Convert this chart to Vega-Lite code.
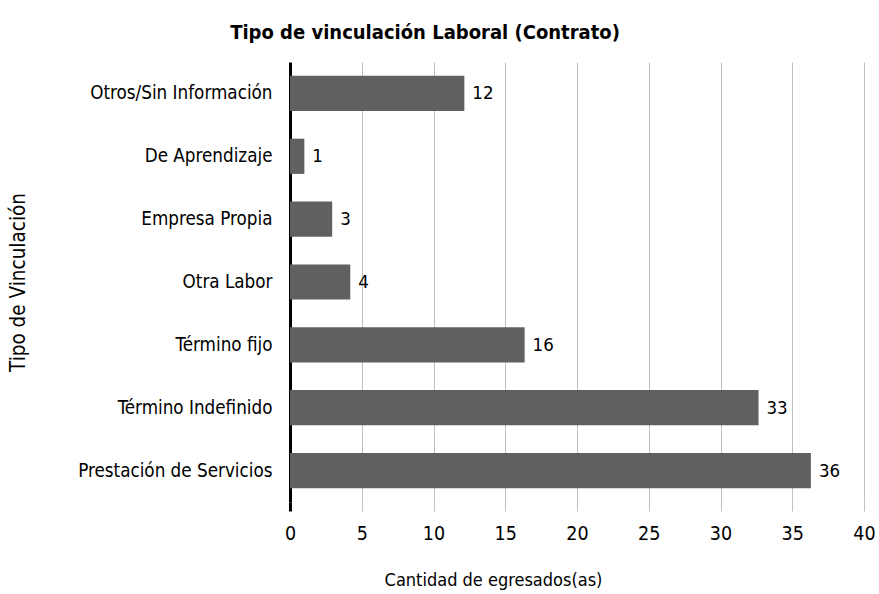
{
  "$schema": "https://vega.github.io/schema/vega-lite/v6.json",
  "width": 574,
  "height": 440,
  "autosize": {"type": "none"},
  "padding": {"left": 290, "top": 62, "right": 15, "bottom": 92},
  "background": "white",
  "config": {
    "font": "DejaVu Sans Condensed",
    "view": {"stroke": null}
  },
  "title": {
    "text": "Tipo de vinculación Laboral (Contrato)",
    "font": "DejaVu Sans Condensed",
    "fontSize": 20,
    "fontWeight": "bold",
    "color": "#000000",
    "anchor": "middle",
    "dx": -152,
    "offset": 19
  },
  "data": {
    "values": [
      {"tipo": "Otros/Sin Información", "cantidad": 12.15},
      {"tipo": "De Aprendizaje", "cantidad": 1.0},
      {"tipo": "Empresa Propia", "cantidad": 2.94},
      {"tipo": "Otra Labor", "cantidad": 4.2},
      {"tipo": "Término fijo", "cantidad": 16.35},
      {"tipo": "Término Indefinido", "cantidad": 32.65},
      {"tipo": "Prestación de Servicios", "cantidad": 36.3}
    ]
  },
  "encoding": {
    "y": {
      "field": "tipo",
      "type": "nominal",
      "sort": null,
      "scale": {"paddingInner": 0.44, "paddingOuter": 0.22},
      "axis": {
        "title": "Tipo de Vinculación",
        "titleFont": "DejaVu Sans Condensed",
        "titleFontSize": 20.5,
        "titleFontWeight": "normal",
        "titleColor": "#000000",
        "titleAngle": -90,
        "titleX": -272,
        "titleY": 220,
        "titleAlign": "center",
        "titleBaseline": "middle",
        "labelFont": "DejaVu Sans Condensed",
        "labelFontSize": 18.7,
        "labelColor": "#000000",
        "labelPadding": 18,
        "labelLimit": 0,
        "ticks": false,
        "domainColor": "#000000",
        "domainWidth": 3
      }
    },
    "x": {
      "field": "cantidad",
      "type": "quantitative",
      "scale": {"domain": [0, 40]},
      "axis": {
        "title": "Cantidad de egresados(as)",
        "titleFont": "DejaVu Sans Condensed",
        "titleFontSize": 18,
        "titleFontWeight": "normal",
        "titleColor": "#000000",
        "titleX": 203,
        "titleY": 78,
        "titleAlign": "center",
        "titleBaseline": "middle",
        "values": [0, 5, 10, 15, 20, 25, 30, 35, 40],
        "labelFont": "DejaVu Sans Condensed",
        "labelFontSize": 19.5,
        "labelColor": "#000000",
        "labelPadding": 13,
        "labelFlush": false,
        "domain": false,
        "grid": true,
        "gridColor": {"condition": {"test": "datum.value === 0", "value": "#000000"}, "value": "#bfbfbf"},
        "gridWidth": {"condition": {"test": "datum.value === 0", "value": 0}, "value": 1},
        "ticks": true,
        "tickSize": 9,
        "tickColor": {"condition": {"test": "datum.value === 0", "value": "#000000"}, "value": "#bfbfbf"},
        "tickWidth": {"condition": {"test": "datum.value === 0", "value": 3}, "value": 1}
      }
    }
  },
  "layer": [
    {"mark": {"type": "bar", "color": "#606060"}},
    {
      "mark": {"type": "text", "align": "left", "baseline": "middle", "dx": 8, "font": "DejaVu Sans Condensed", "fontSize": 18.5, "color": "#000000"},
      "encoding": {"text": {"field": "cantidad", "type": "quantitative", "format": ".0f"}}
    }
  ]
}
